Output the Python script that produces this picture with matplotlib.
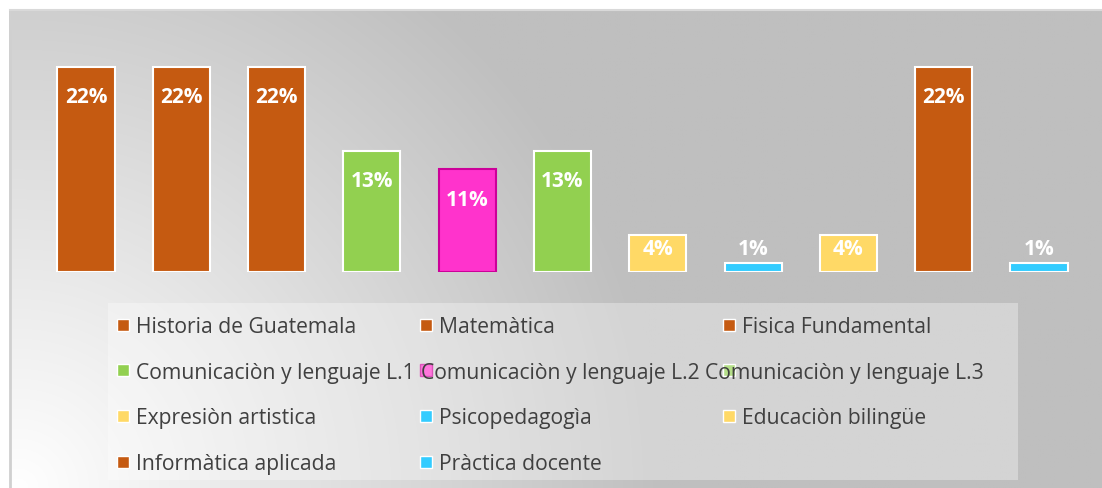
import numpy as np
import matplotlib
matplotlib.use('Agg')
import matplotlib.pyplot as plt
from matplotlib.patches import Rectangle

plt.rcParams['font.family'] = ['Open Sans', 'DejaVu Sans']

# datos
cursos = ['Historia de Guatemala', 'Matemàtica', 'Fisica Fundamental',
          'Comunicaciòn y lenguaje L.1', 'Comunicaciòn y lenguaje L.2', 'Comunicaciòn y lenguaje L.3',
          'Expresiòn artistica', 'Psicopedagogìa', 'Educaciòn bilingüe',
          'Informàtica aplicada', 'Pràctica docente']
porcentajes = [22, 22, 22, 13, 11, 13, 4, 1, 4, 22, 1]
etiquetas = ['22%', '22%', '22%', '13%', '11%', '13%', '4%', '1%', '4%', '22%', '1%']

NAR = '#C55A11'
VER = '#92D050'
MAG = '#FF33CC'
AMA = '#FFD966'
CIA = '#33CCFF'
colores = [NAR, NAR, NAR, VER, MAG, VER, AMA, CIA, AMA, NAR, CIA]
bordes = ['white'] * 11
bordes[4] = '#CC0099'

W, H = 1102, 488
fig = plt.figure(figsize=(W / 100, H / 100), dpi=100)

# fondo con degradado radial
bg = fig.add_axes([0, 0, 1, 1], zorder=0)
bg.set_xlim(0, W)
bg.set_ylim(H, 0)
bg.axis('off')
xx, yy = np.meshgrid(np.arange(W), np.arange(H))
r = np.clip(np.hypot(xx - 9, 488 - yy) / 650.0, 0, 1)
val = (255 - 64 * r) / 255.0
img = np.dstack([val, val, val])
bg.imshow(img, extent=(9, W, H, 9), aspect='auto', interpolation='bilinear')
bg.plot([9.5, 9.5], [H, 9.5], color='#d0d0d0', lw=2)
bg.plot([9.5, W], [9.5, 9.5], color='#d9d9d9', lw=1.5)

# barras
ax = fig.add_axes([38.3 / W, 216 / H, 1048.4 / W, 233 / H], zorder=2)
ax.patch.set_alpha(0)
x = np.arange(len(cursos))
ax.bar(x, porcentajes, width=0.6, color=colores, edgecolor=bordes, linewidth=1.5)
for xi, v, t in zip(x, porcentajes, etiquetas):
    ax.text(xi, max(v - 3.3, 2.4), t, ha='center', va='center', color='white',
            fontsize=15, fontweight='bold')
ax.set_xlim(-0.5, len(cursos) - 0.5)
ax.set_ylim(0, 25)
ax.axis('off')

# leyenda dibujada a mano (los textos largos se solapan como en el original)
lg = fig.add_axes([0, 0, 1, 1], zorder=3)
lg.patch.set_alpha(0)
lg.set_xlim(0, W)
lg.set_ylim(H, 0)
lg.axis('off')
caja = Rectangle((108, 303), 910, 177, facecolor='white', alpha=0.33, edgecolor='none')
lg.add_patch(caja)
rend = fig.canvas.get_renderer()
col_x = [117, 420, 723]
for fila in range(0, len(cursos), 3):
    idx = list(range(fila, min(fila + 3, len(cursos))))
    cy = 325 + (fila // 3) * 45.7
    textos = []
    for col, i in enumerate(idx):
        t = lg.text(col_x[col] + 19, cy + 8, cursos[i], ha='left', va='baseline',
                    fontsize=15.2, color='#404040', zorder=1)
        t.set_clip_path(caja)
        textos.append(t)
    anchos = [t.get_window_extent(rend).width for t in textos]
    # si algun texto no cabe en su columna, la fila se escribe seguida
    seguida = max(anchos) + 19 > 290
    fin = 0
    for col, (i, t, w) in enumerate(zip(idx, textos, anchos)):
        if seguida and col > 0:
            t.set_x(fin + 6)
        fin = t.get_position()[0] + w
        mk = Rectangle((col_x[col], cy - 6.5), 12, 12, facecolor=colores[i],
                       edgecolor=bordes[i], linewidth=1,
                       zorder=0.5 if (seguida and col > 0) else 2)
        mk.set_clip_path(caja)
        lg.add_patch(mk)

fig.savefig('out.png', dpi=100)
